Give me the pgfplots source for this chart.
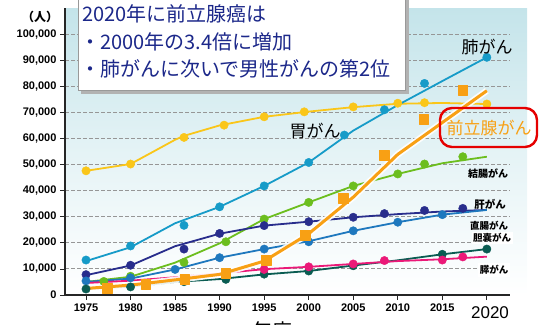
\documentclass[border=0pt]{standalone}
\usepackage{pgfplots}
\pgfplotsset{compat=1.18}
\usepackage{fontspec}
\setmainfont{Liberation Sans}
\newfontfamily\jp{Noto Sans CJK JP}
\definecolor{bgtop}{RGB}{196,228,234}
\definecolor{stomach}{RGB}{250,198,25}
\definecolor{lung}{RGB}{22,155,200}
\definecolor{colon}{RGB}{108,190,30}
\definecolor{liver}{RGB}{40,45,140}
\definecolor{rectum}{RGB}{30,120,190}
\definecolor{gall}{RGB}{10,92,82}
\definecolor{pancreas}{RGB}{235,25,120}
\definecolor{prostate}{RGB}{248,160,20}
\definecolor{boxnavy}{RGB}{28,40,138}
\definecolor{gridgray}{RGB}{150,150,150}
\begin{document}
\begin{tikzpicture}
\useasboundingbox (0pt,0pt) rectangle (545pt,-324pt);
\clip (0pt,0pt) rectangle (545pt,-324pt);
\shade[top color=bgtop, bottom color=white, middle color=bgtop!45] (65pt,-8pt) rectangle (527pt,-295pt);
\begin{axis}[
  at={(65pt,-295pt)}, anchor=south west,
  scale only axis, width=445pt, height=287pt,
  xmin=1972.64, xmax=2022.6, ymin=0, ymax=110000,
  axis x line*=bottom, axis y line*=left,
  axis line style={line width=1.2pt, black!85},
  xtick={1975,1980,...,2020},
  xticklabels={1975,1980,1985,1990,1995,2000,2005,2010,2015,{}},
  ytick={0,10000,...,100000},
  yticklabels={0,{10,000},{20,000},{30,000},{40,000},{50,000},{60,000},{70,000},{80,000},{90,000},{100,000}},
  scaled y ticks=false,
  tick align=outside, major tick length=5pt,
  tick style={black!85, line width=0.8pt},
  ymajorgrids,
  grid style={gridgray, line width=0.9pt, dash pattern=on 3.5pt off 2.5pt},
  ticklabel style={font=\bfseries\fontsize{11}{11}\selectfont},
  /pgf/number format/assume math mode=true,
  clip=false,
  every axis plot/.append style={line join=round},
]
% stomach
\addplot[stomach, line width=1.8pt] coordinates {(1975,47600)(1980,50200)(1985,59500)(1986,61000)(1990,65000)(1995,68300)(2000,70300)(2005,72000)(2010,73300)(2015,73600)(2020,73200)};
\addplot[only marks, mark=*, mark size=4.2pt, mark options={fill=stomach, draw=stomach}] coordinates {(1975,47600)(1980,50200)(1986,60400)(1990.5,65100)(1995,68300)(1999.5,70200)(2005,72100)(2010,73500)(2013,73700)(2020,73200)};
% lung
\addplot[lung, line width=1.8pt] coordinates {(1975,13000)(1980,18300)(1985,27500)(1990,33800)(1995,41800)(2000,50800)(2005,63000)(2010,72800)(2015,82000)(2020,91100)};
\addplot[only marks, mark=*, mark size=4.2pt, mark options={fill=lung, draw=lung}] coordinates {(1975,13400)(1980,18800)(1986,26700)(1990,33800)(1995,41800)(2000,50800)(2004,61300)(2008.5,71000)(2013,81100)(2020,91100)};
% colon
\addplot[colon, line width=1.8pt] coordinates {(1975,5000)(1980,7000)(1985,12400)(1990,19800)(1995,29100)(2000,35500)(2005,41800)(2010,46400)(2015,50500)(2020,53000)};
\addplot[only marks, mark=*, mark size=4.2pt, mark options={fill=colon, draw=colon}] coordinates {(1977,5200)(1980,7200)(1986,12500)(1990.7,20400)(1995,29100)(2000,35500)(2005,41800)(2010,46400)(2013,50200)(2017.3,53000)};
% liver
\addplot[liver, line width=1.8pt] coordinates {(1975,7600)(1980,11300)(1985,18700)(1990,23500)(1995,26600)(2000,28100)(2005,29800)(2010,31000)(2015,32000)(2020,32600)};
\addplot[only marks, mark=*, mark size=4.2pt, mark options={fill=liver, draw=liver}] coordinates {(1975,7800)(1980,11400)(1986,17600)(1990,23600)(1995,26600)(2000,28100)(2005,29800)(2008.5,31200)(2013,32400)(2017.3,33200)};
% rectum
\addplot[rectum, line width=1.8pt] coordinates {(1975,5000)(1980,6300)(1985,9800)(1990,14300)(1995,17600)(2000,20600)(2005,24600)(2010,27900)(2015,30800)(2020,32600)};
\addplot[only marks, mark=*, mark size=4.2pt, mark options={fill=rectum, draw=rectum}] coordinates {(1975,5400)(1980,6600)(1985,9800)(1990,14300)(1995,17600)(2000,20400)(2005,24600)(2010,27900)(2015,30800)};
% gallbladder
\addplot[gall, line width=1.8pt] coordinates {(1975,2300)(1980,3200)(1985,5000)(1990,6100)(1995,7900)(2000,9200)(2005,11300)(2010,13300)(2015,15600)(2020,17600)};
\addplot[only marks, mark=*, mark size=4.2pt, mark options={fill=gall, draw=gall}] coordinates {(1975,2300)(1980,3100)(1986,5100)(1990.7,6000)(1995,8000)(2000,9200)(2005,11200)(2015,15600)(2020,17600)};
% pancreas
\addplot[pancreas, line width=1.8pt] coordinates {(1975,4600)(1980,5500)(1985,6800)(1990,8300)(1995,9900)(2000,10800)(2005,11900)(2010,13000)(2015,13700)(2020,14700)};
\addplot[only marks, mark=*, mark size=4.2pt, mark options={fill=pancreas, draw=pancreas}] coordinates {(1995,9800)(2000,10800)(2005,11900)(2008.5,13200)(2015,13400)(2017.3,14600)};
% prostate
\addplot[white, line width=6.5pt, opacity=0.9] coordinates {(1975,2500)(1980,3800)(1985,5800)(1990,7900)(1995,13000)(2000,23500)(2005,37500)(2010,53900)(2015,66100)(2020,78300)};
\addplot[prostate, line width=3pt] coordinates {(1975,2500)(1980,3800)(1985,5800)(1990,7900)(1995,13000)(2000,23500)(2005,37500)(2010,53900)(2015,66100)(2020,78300)};
\addplot[only marks, mark=square*, mark size=4.8pt, mark options={fill=prostate, draw=prostate}] coordinates {(1977.4,2700)(1981.7,4200)(1986.1,6000)(1990.7,8300)(1995.2,13400)(1999.6,23000)(2003.9,37000)(2008.5,53600)(2012.9,67300)(2017.3,78500)};
\end{axis}
\begin{scope}[x=1pt,y=-1pt]
% text box
\fill[black!30] (81,-1) rectangle (409,94);
\filldraw[fill=white, draw=gray!80, line width=0.8pt] (78,-3) rectangle (405,90);
\node[anchor=west, inner sep=0pt, text=boxnavy, font=\jp\fontsize{20}{20}\selectfont] at (82,14) {2020年に前立腺癌は};
\node[anchor=west, inner sep=0pt, text=boxnavy, font=\jp\fontsize{20}{20}\selectfont] at (80,42) {・2000年の3.4倍に増加};
\node[anchor=west, inner sep=0pt, text=boxnavy, font=\jp\fontsize{20}{20}\selectfont] at (80,69) {・肺がんに次いで男性がんの第2位};
% unit
\node[font=\jp\bfseries\fontsize{12}{12}\selectfont] at (40,17) {（人）};
% labels
\node[font=\jp\fontsize{17}{17}\selectfont] at (487,47) {肺がん};
\node[font=\jp\fontsize{17}{17}\selectfont] at (315,131) {胃がん};
\draw[red!90!black, line width=2.4pt, rounded corners=12pt] (440,108) rectangle (537,147);
\node[text=prostate, font=\jp\fontsize{17}{17}\selectfont] at (489,128) {前立腺がん};
\node[font=\jp\bfseries\fontsize{10}{10}\selectfont, inner sep=1pt] at (488,174) {結腸がん};
\node[font=\jp\bfseries\fontsize{10.5}{10.5}\selectfont, inner sep=1pt] at (490,204) {肝がん};
\node[font=\jp\bfseries\fontsize{9.5}{9.5}\selectfont, inner sep=1pt] at (489,226) {直腸がん};
\node[font=\jp\bfseries\fontsize{9.5}{9.5}\selectfont, fill=white, inner sep=1.5pt] at (492,238) {胆嚢がん};
\node[font=\jp\bfseries\fontsize{9.5}{9.5}\selectfont, fill=white, inner sep=2pt] at (494,270) {膵がん};
\node[font=\fontsize{17}{17}\selectfont] at (490,313) {2020};
\node[anchor=north, font=\jp\fontsize{20}{20}\selectfont] at (272,318) {年度};
\end{scope}
\end{tikzpicture}
\end{document}
